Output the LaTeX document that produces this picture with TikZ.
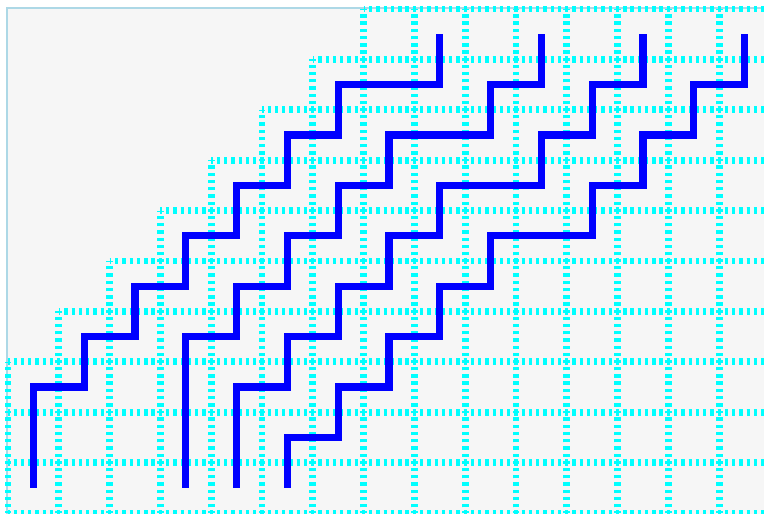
\documentclass[tikz,border=0pt]{standalone}
\usepackage{tikz}
\definecolor{panel}{RGB}{246,246,246}
\definecolor{frame}{RGB}{173,216,230}
\definecolor{gridcyan}{RGB}{0,255,255}
\definecolor{wireblue}{RGB}{0,0,255}
\tikzset{
cellline/.style={gridcyan,line width=3.8pt,dash pattern=on 1.85pt off 2.215pt,dash phase=0.925pt},
wire/.style={wireblue,line width=4.1pt},
panelbox/.style={draw=frame,fill=panel,line width=0.8pt}
}
\begin{document}
\begin{tikzpicture}[x=1cm,y=0.992cm]
\useasboundingbox (-0.157,-0.02) rectangle (14.882,10.179);
\clip (-0.157,-0.02) rectangle (14.882,10.179);
\draw[panelbox] (-0.02,-1) rectangle (16,10.02);
% staircase of dotted cells
\foreach \i in {0,...,14}{
  \pgfmathtruncatemacro\jmax{min(9,\i+2)}
  \foreach \j in {0,...,\jmax}{
    \draw[cellline] (\i,\j)--(\i+1,\j) (\i,\j+1)--(\i+1,\j+1) (\i,\j)--(\i,\j+1) (\i+1,\j)--(\i+1,\j+1);
  }
}
% the four stepped wires
\draw[wire] (0.5,0.5) |- (1.5,2.5) |- (2.5,3.5) |- (3.5,4.5) |- (4.5,5.5) |- (5.5,6.5) |- (6.5,7.5) |- (8.5,8.5) -- (8.5,9.5);
\draw[wire] (3.5,0.5) |- (4.5,3.5) |- (5.5,4.5) |- (6.5,5.5) |- (7.5,6.5) |- (9.5,7.5) |- (10.5,8.5) -- (10.5,9.5);
\draw[wire] (4.5,0.5) |- (5.5,2.5) |- (6.5,3.5) |- (7.5,4.5) |- (8.5,5.5) |- (10.5,6.5) |- (11.5,7.5) |- (12.5,8.5) -- (12.5,9.5);
\draw[wire] (5.5,0.5) |- (6.5,1.5) |- (7.5,2.5) |- (8.5,3.5) |- (9.5,4.5) |- (11.5,5.5) |- (12.5,6.5) |- (13.5,7.5) |- (14.5,8.5) -- (14.5,9.5);
\end{tikzpicture}
\end{document}
